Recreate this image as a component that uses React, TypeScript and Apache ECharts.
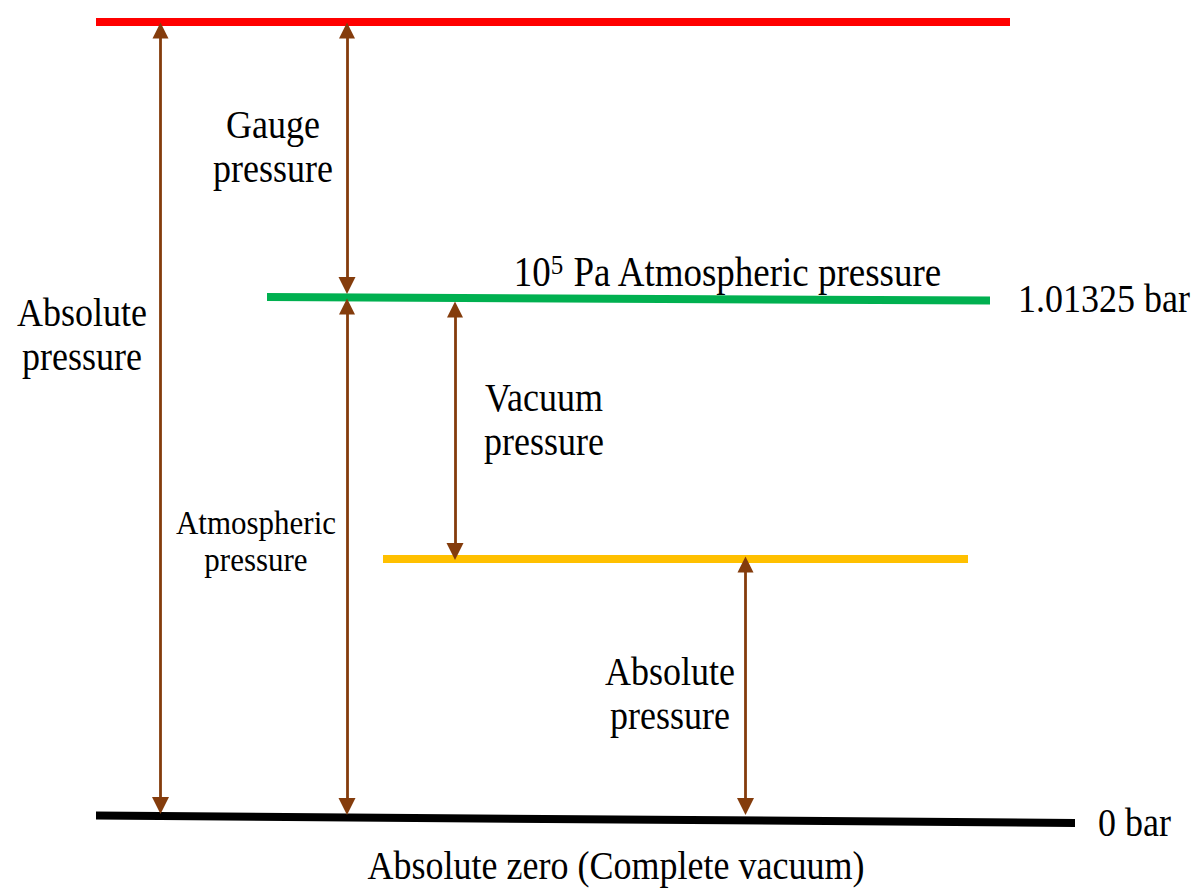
import React, { useEffect, useRef } from "react";
import * as echarts from "echarts";

// Pressure levels (drawn in a pixel-like coordinate space of the diagram)
const LEVEL_NAMES = ["Gauge level", "Atmospheric level", "Vacuum level", "Absolute zero"];
const LEVEL_X_START = [96, 267, 383, 96];
const LEVEL_X_END = [1010, 990, 968, 1075];
const LEVEL_Y_START = [22, 297, 559, 815.5];
const LEVEL_Y_END = [22, 300.5, 559, 823];
const LEVEL_COLORS = ["#FF0000", "#00B050", "#FFC000", "#000000"];

// Double-headed arrows between levels
const ARROW_X = [160.5, 347, 347, 455, 745.5];
const ARROW_TOP = [22, 22, 298, 301, 556];
const ARROW_BOTTOM = [814, 294, 815, 560, 815];

// Text labels
const LABEL_TEXT = ["Gauge\npressure", "Absolute\npressure", "Vacuum\npressure", "Absolute\npressure", "Atmospheric\npressure"];
const LABEL_X = [273, 82, 544, 670, 256];
const LABEL_Y = [146, 334, 419, 693, 541];
const LABEL_SIZE = [36, 36, 36, 36, 31];
const LABEL_LH = [39, 39, 39, 39, 33];

const SIDE_TEXT = ["1.01325 bar", "0 bar"];
const SIDE_X = [1018, 1098];
const SIDE_Y = [298, 822];

const ARROW_COLOR = "#843C0C";
const FONT = '"Liberation Serif", "Times New Roman", serif';
const SY = 1.12;
const HEAD = 17;

export default function App() {
  const ref = useRef<HTMLDivElement>(null);
  useEffect(() => {
    const chart = echarts.init(ref.current!, null, { renderer: "svg" });
    const levelSeries = LEVEL_NAMES.map((name, i) => ({
      name,
      type: "line",
      data: [
        [LEVEL_X_START[i], LEVEL_Y_START[i]],
        [LEVEL_X_END[i], LEVEL_Y_END[i]],
      ],
      symbol: "none",
      silent: true,
      lineStyle: { color: LEVEL_COLORS[i], width: 8, cap: "butt" },
      z: 2,
    }));
    const arrowSeries = {
      type: "lines",
      coordinateSystem: "cartesian2d",
      symbol: ["triangle", "triangle"],
      symbolSize: [16, HEAD],
      silent: true,
      lineStyle: { color: ARROW_COLOR, width: 2.8, opacity: 1, curveness: 0 },
      itemStyle: { color: ARROW_COLOR },
      z: 3,
      data: ARROW_X.map((x, i) => ({
        coords: [
          [x, ARROW_TOP[i] + HEAD / 2],
          [x, ARROW_BOTTOM[i] - HEAD / 2],
        ],
      })),
    };
    const texts: any[] = LABEL_TEXT.map((t, i) => ({
      type: "text",
      x: LABEL_X[i],
      y: LABEL_Y[i],
      scaleY: SY,
      style: {
        text: t,
        fontFamily: FONT,
        fontSize: LABEL_SIZE[i],
        lineHeight: LABEL_LH[i],
        fill: "#000",
        align: "center",
        verticalAlign: "middle",
      },
    }));
    SIDE_TEXT.forEach((t, i) => {
      texts.push({
        type: "text",
        x: SIDE_X[i],
        y: SIDE_Y[i],
        scaleY: SY,
        style: {
          text: t,
          fontFamily: FONT,
          fontSize: 36,
          fill: "#000",
          align: "left",
          verticalAlign: "middle",
        },
      });
    });
    texts.push({
      type: "text",
      x: 616,
      y: 865,
      scaleY: SY,
      style: {
        text: "Absolute zero (Complete vacuum)",
        fontFamily: FONT,
        fontSize: 36,
        fill: "#000",
        align: "center",
        verticalAlign: "middle",
      },
    });
    texts.push({
      type: "text",
      x: 728,
      y: 272,
      scaleY: SY,
      style: {
        text: "{n|10}{s|5}{n| Pa Atmospheric pressure}",
        fontFamily: FONT,
        fill: "#000",
        align: "center",
        verticalAlign: "middle",
        rich: {
          n: { fontFamily: FONT, fontSize: 37, fill: "#000", lineHeight: 40 },
          s: { fontFamily: FONT, fontSize: 25, fill: "#000", lineHeight: 40, verticalAlign: "top", padding: [1, 0, 0, 0] },
        },
      },
    });

    chart.setOption({
      animation: false,
      backgroundColor: "#ffffff",
      grid: { left: 0, right: 0, top: 0, bottom: 0 },
      xAxis: { type: "value", min: 0, max: 1203, show: false },
      yAxis: { type: "value", min: 0, max: 894, inverse: true, show: false },
      series: [...levelSeries, arrowSeries],
      graphic: texts,
    });
    return () => chart.dispose();
  }, []);
  return (
    <div
      ref={ref}
      style={{ position: "absolute", left: 0, top: 0, width: 1203, height: 894, background: "#fff" }}
    />
  );
}
